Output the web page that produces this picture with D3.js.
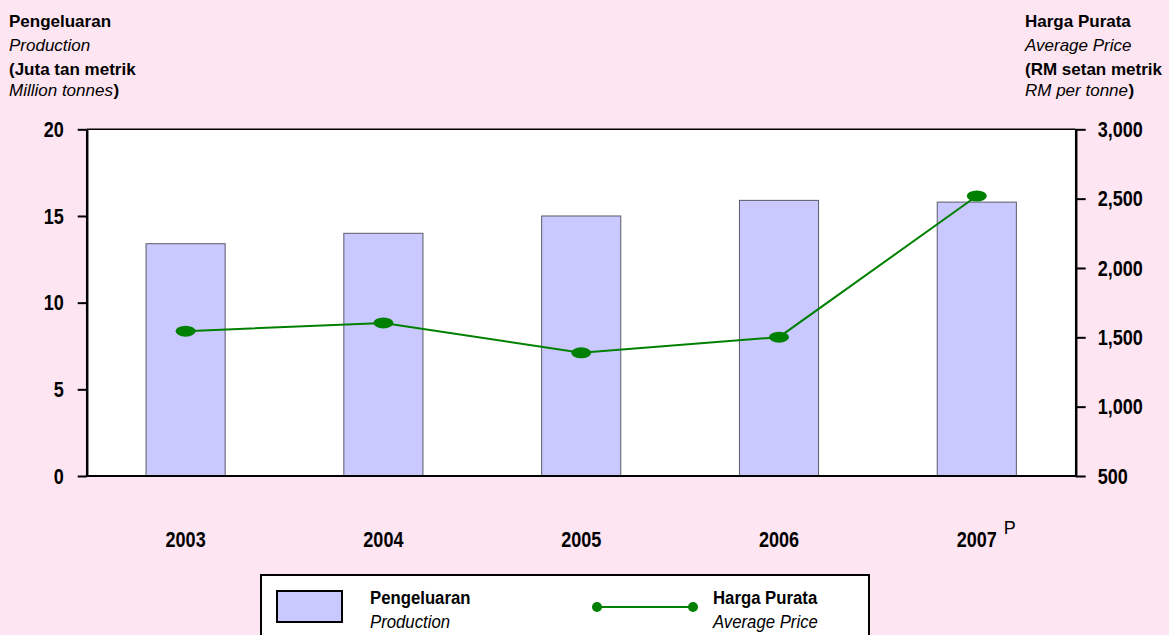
<!DOCTYPE html>
<html>
<head>
<meta charset="utf-8">
<script src="https://cdn.jsdelivr.net/npm/d3@7"></script>
<style>
  html, body { margin: 0; padding: 0; background: #FEE5F2; }
  svg { display: block; font-family: "Liberation Sans", Arial, sans-serif; }
</style>
</head>
<body>
<svg id="chart" width="1169" height="635"></svg>
<script>
const years = ["2003", "2004", "2005", "2006", "2007"];
const production = [13.4, 14.0, 15.0, 15.9, 15.8];   // Juta tan metrik / Million tonnes
const price = [1544, 1604, 1388, 1501, 2519];         // RM setan metrik / RM per tonne
const leftTicks = [0, 5, 10, 15, 20];
const rightTicks = [500, 1000, 1500, 2000, 2500, 3000];

const W = 1169, H = 635;
const plot = { left: 86.7, right: 1075.7, top: 129.3, bottom: 476 };
const BG = "#FEE5F2", BAR = "#C9C9FF", GREEN = "#008000";
const FONT = "Liberation Sans, Arial, sans-serif";

const svg = d3.select("#chart");
svg.append("rect").attr("width", W).attr("height", H).attr("fill", BG);

const x = d3.scaleBand().domain(years).range([plot.left, plot.right]).paddingInner(0.6).paddingOuter(0.3);
const yL = d3.scaleLinear().domain([0, 20]).range([plot.bottom, plot.top]);
const yR = d3.scaleLinear().domain([500, 3000]).range([plot.bottom, plot.top]);

function condense(sel, k) {
  sel.each(function () {
    const len = this.getComputedTextLength();
    d3.select(this).attr("textLength", len * k).attr("lengthAdjust", "spacingAndGlyphs");
  });
}

// plot background
svg.append("rect")
  .attr("x", plot.left).attr("y", plot.top)
  .attr("width", plot.right - plot.left).attr("height", plot.bottom - plot.top)
  .attr("fill", "#ffffff");
svg.append("line")
  .attr("x1", plot.left).attr("x2", plot.right)
  .attr("y1", plot.top).attr("y2", plot.top)
  .attr("stroke", "#000").attr("stroke-width", 1.5);

// bars
svg.append("g").selectAll("rect").data(production).join("rect")
  .attr("x", (d, i) => x(years[i]))
  .attr("y", d => yL(d))
  .attr("width", x.bandwidth())
  .attr("height", d => yL(0) - yL(d))
  .attr("fill", BAR)
  .attr("stroke", "#5a5a6a")
  .attr("stroke-width", 1);

// line
const line = d3.line()
  .x((d, i) => x(years[i]) + x.bandwidth() / 2)
  .y(d => yR(d));
svg.append("path").datum(price)
  .attr("d", line).attr("fill", "none")
  .attr("stroke", GREEN).attr("stroke-width", 2);
svg.append("g").selectAll("ellipse").data(price).join("ellipse")
  .attr("cx", (d, i) => x(years[i]) + x.bandwidth() / 2)
  .attr("cy", d => yR(d))
  .attr("rx", 10).attr("ry", 5.5)
  .attr("fill", GREEN);

// bottom axis line
svg.append("line")
  .attr("x1", plot.left - 1).attr("x2", plot.right + 1)
  .attr("y1", plot.bottom).attr("y2", plot.bottom)
  .attr("stroke", "#000").attr("stroke-width", 2);

// left axis
const gL = svg.append("g").attr("transform", `translate(${plot.left},0)`)
  .call(d3.axisLeft(yL).tickValues(leftTicks).tickSize(9).tickSizeOuter(0).tickPadding(14));
gL.select(".domain").attr("stroke-width", 2.5);
gL.selectAll(".tick line").attr("stroke-width", 2);
gL.selectAll("text").attr("font-size", 22).attr("font-weight", "bold")
  .attr("font-family", FONT).attr("fill", "#000").call(condense, 0.82);

// right axis
const gR = svg.append("g").attr("transform", `translate(${plot.right},0)`)
  .call(d3.axisRight(yR).tickValues(rightTicks).tickFormat(d3.format(",")).tickSize(10).tickSizeOuter(0).tickPadding(12));
gR.select(".domain").attr("stroke-width", 2.5);
gR.selectAll(".tick line").attr("stroke-width", 2);
gR.selectAll("text").attr("font-size", 22).attr("font-weight", "bold")
  .attr("font-family", FONT).attr("fill", "#000").call(condense, 0.82);

// x labels
const gX = svg.append("g").attr("transform", `translate(0,${plot.bottom})`)
  .call(d3.axisBottom(x).tickSize(0).tickPadding(55));
gX.select(".domain").remove();
gX.selectAll("text").attr("font-size", 22).attr("font-weight", "bold")
  .attr("font-family", FONT).attr("fill", "#000").call(condense, 0.82);
// provisional marker
svg.append("text")
  .attr("x", x("2007") + x.bandwidth() / 2 + 27).attr("y", 534)
  .attr("font-size", 18).attr("fill", "#000").attr("font-family", FONT).text("P");

// header texts: each part its own text element
function header(xPos, lines) {
  const t = svg.append("g");
  lines.forEach((ln, i) => {
    let cx = xPos;
    ln.forEach(part => {
      const tx = t.append("text").attr("x", cx).attr("y", [27, 51, 75, 96][i])
        .attr("font-size", 17).attr("fill", "#000")
        .attr("font-weight", part.b ? "bold" : "normal")
        .attr("font-style", part.i ? "italic" : "normal").text(part.t);
      cx += tx.node().getComputedTextLength() + 0.5;
    });
  });
}
header(9, [
  [{ t: "Pengeluaran", b: true }],
  [{ t: "Production", i: true }],
  [{ t: "(Juta tan metrik", b: true }],
  [{ t: "Million tonnes", i: true }, { t: ")", b: true }]
]);
header(1025, [
  [{ t: "Harga Purata", b: true }],
  [{ t: "Average Price", i: true }],
  [{ t: "(RM setan metrik", b: true }],
  [{ t: "RM per tonne", i: true }, { t: ")", b: true }]
]);

// legend
const lg = svg.append("g");
lg.append("rect").attr("x", 261).attr("y", 575).attr("width", 608).attr("height", 80)
  .attr("fill", "#fff").attr("stroke", "#000").attr("stroke-width", 2);
lg.append("rect").attr("x", 277).attr("y", 591).attr("width", 65).attr("height", 31)
  .attr("fill", BAR).attr("stroke", "#000").attr("stroke-width", 2);
const legendText = [
  { x: 370, y: 604, t: "Pengeluaran", b: true },
  { x: 370, y: 628, t: "Production", b: false },
  { x: 713, y: 604, t: "Harga Purata", b: true },
  { x: 713, y: 628, t: "Average Price", b: false }
];
lg.selectAll("text").data(legendText).join("text")
  .attr("x", d => d.x).attr("y", d => d.y).attr("font-size", 18)
  .attr("font-weight", d => d.b ? "bold" : "normal")
  .attr("font-style", d => d.b ? "normal" : "italic")
  .text(d => d.t).call(condense, 0.93);
lg.append("line").attr("x1", 597).attr("x2", 693).attr("y1", 607).attr("y2", 607)
  .attr("stroke", GREEN).attr("stroke-width", 2);
lg.selectAll("circle").data([597, 693]).join("circle")
  .attr("cx", d => d).attr("cy", 607).attr("r", 5).attr("fill", GREEN);
</script>
</body>
</html>
